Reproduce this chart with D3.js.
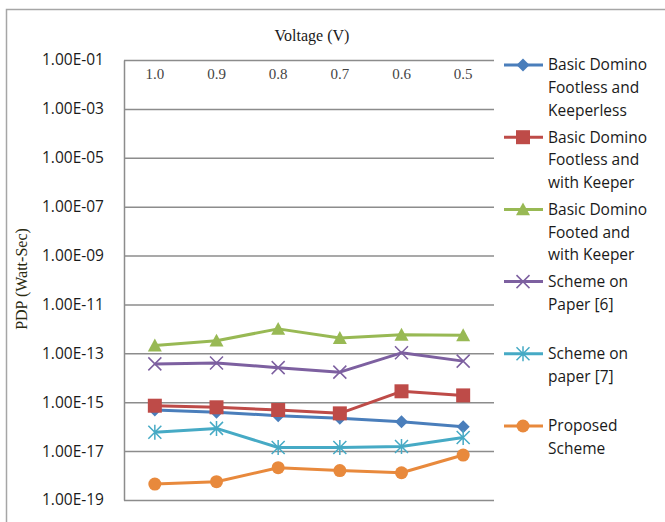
<!DOCTYPE html>
<html>
<head>
<meta charset="utf-8">
<script src="https://cdn.jsdelivr.net/npm/d3@7"></script>
<style>
  html, body { margin: 0; padding: 0; background: #fff; }
  svg { display: block; }
</style>
</head>
<body>
<svg id="chart" width="665" height="522"></svg>
<script>
// Supply voltages (categories, read left to right)
const voltages = ["1.0", "0.9", "0.8", "0.7", "0.6", "0.5"];

// Power-delay product per scheme (Watt-Sec)
const footlessKeeperless = [4.8e-16, 3.9e-16, 2.8e-16, 2.2e-16, 1.6e-16, 1.0e-16];
const footlessWithKeeper = [7.2e-16, 6.2e-16, 4.8e-16, 3.5e-16, 2.8e-15, 1.9e-15];
const footedWithKeeper   = [2.1e-13, 3.3e-13, 1.0e-12, 4.2e-13, 5.7e-13, 5.5e-13];
const schemePaper6       = [3.7e-14, 4.0e-14, 2.6e-14, 1.7e-14, 1.05e-13, 4.8e-14];
const schemePaper7       = [5.9e-17, 8.5e-17, 1.4e-17, 1.4e-17, 1.55e-17, 3.6e-17];
const proposedScheme     = [4.5e-19, 5.6e-19, 2.1e-18, 1.6e-18, 1.3e-18, 6.9e-18];

// Legend labels, wrapped as in the legend box
const seriesNames = [
  ["Basic Domino", "Footless and", "Keeperless"],
  ["Basic Domino", "Footless and", "with Keeper"],
  ["Basic Domino", "Footed and", "with Keeper"],
  ["Scheme on", "Paper [6]"],
  ["Scheme on", "paper [7]"],
  ["Proposed", "Scheme"]
];

// Y tick values (every second decade)
const yTicks = [1e-1, 1e-3, 1e-5, 1e-7, 1e-9, 1e-11, 1e-13, 1e-15, 1e-17, 1e-19];

const seriesValues = [footlessKeeperless, footlessWithKeeper, footedWithKeeper,
                      schemePaper6, schemePaper7, proposedScheme];
const colors  = ["#4A7EBB", "#BE4B48", "#98B954", "#7D60A0", "#46AAC5", "#E8893C"];
const markers = ["diamond", "square", "triangle", "x", "asterisk", "circle"];

const svg = d3.select("#chart");

// Outer chart frame
svg.append("rect")
  .attr("x", 6.5).attr("y", 9.5)
  .attr("width", 720).attr("height", 600)
  .attr("fill", "#fff")
  .attr("stroke", "#a6a6a6").attr("stroke-width", 1.5);

const plot = { left: 124, right: 494, top: 60, bottom: 500 };

const x = d3.scaleBand().domain(voltages).range([plot.left, plot.right]);
const y = d3.scaleLog().domain([1e-19, 1e-1]).range([plot.bottom, plot.top]);

const fmtExp = v => {
  const e = Math.round(Math.log10(v));
  const s = String(Math.abs(e)).padStart(2, "0");
  return "1.00E" + (e < 0 ? "-" : "+") + s;
};

// Y axis with horizontal gridlines
const yAxis = svg.append("g")
  .attr("transform", `translate(${plot.left},0)`)
  .call(d3.axisLeft(y).tickValues(yTicks).tickFormat(fmtExp)
        .tickSize(-(plot.right - plot.left)).tickSizeOuter(0).tickPadding(20));
yAxis.select(".domain").attr("stroke", "#8c8c8c").attr("stroke-width", 1.5);
yAxis.selectAll(".tick line").attr("stroke", "#8c8c8c").attr("stroke-width", 1.5);
yAxis.selectAll(".tick text")
  .attr("fill", "#1a1a1a")
  .style("font-family", "'Open Sans', sans-serif")
  .style("font-size", "15.5px");

// Category axis drawn along the top edge
const xAxis = svg.append("g")
  .attr("transform", `translate(0,${plot.top})`)
  .call(d3.axisBottom(x).tickSize(0).tickPadding(8));
xAxis.select(".domain").remove();
xAxis.selectAll(".tick text")
  .attr("fill", "#444")
  .style("font-family", "'Liberation Serif', 'Times New Roman', serif")
  .style("font-size", "15px");

// Axis titles
svg.append("text")
  .attr("x", 312).attr("y", 41)
  .attr("text-anchor", "middle")
  .attr("fill", "#1a1a1a")
  .style("font-family", "'Liberation Serif', 'Times New Roman', serif")
  .style("font-size", "16px")
  .text("Voltage (V)");

svg.append("text")
  .attr("transform", "translate(27,279) rotate(-90)")
  .attr("text-anchor", "middle")
  .attr("fill", "#2a2a10")
  .style("font-family", "'Liberation Serif', 'Times New Roman', serif")
  .style("font-size", "16px")
  .text("PDP (Watt-Sec)");

// Marker drawing
function drawMarker(g, type, cx, cy, color) {
  if (type === "diamond") {
    const r = 6.5;
    g.append("path")
      .attr("d", `M${cx},${cy - r}L${cx + r},${cy}L${cx},${cy + r}L${cx - r},${cy}Z`)
      .attr("fill", color);
  } else if (type === "square") {
    const s = 14;
    g.append("rect").attr("x", cx - s / 2).attr("y", cy - s / 2)
      .attr("width", s).attr("height", s).attr("fill", color);
  } else if (type === "triangle") {
    const r = 7;
    g.append("path")
      .attr("d", `M${cx},${cy - r}L${cx + r},${cy + r * 0.85}L${cx - r},${cy + r * 0.85}Z`)
      .attr("fill", color);
  } else if (type === "circle") {
    g.append("circle").attr("cx", cx).attr("cy", cy).attr("r", 6.5).attr("fill", color);
  } else if (type === "x") {
    const r = 6.5;
    g.append("path")
      .attr("d", `M${cx - r},${cy - r}L${cx + r},${cy + r}M${cx - r},${cy + r}L${cx + r},${cy - r}`)
      .attr("stroke", color).attr("stroke-width", 1.5).attr("fill", "none");
  } else if (type === "asterisk") {
    const r = 6.5;
    g.append("path")
      .attr("d", `M${cx - r},${cy - r}L${cx + r},${cy + r}M${cx - r},${cy + r}L${cx + r},${cy - r}M${cx},${cy - r - 1}L${cx},${cy + r + 1}`)
      .attr("stroke", color).attr("stroke-width", 1.5).attr("fill", "none");
  }
}

const xc = v => x(v) + x.bandwidth() / 2;
const line = d3.line().x((d, i) => xc(voltages[i])).y(d => y(d));

// Series lines and markers
seriesValues.forEach((vals, k) => {
  const g = svg.append("g");
  g.append("path")
    .attr("d", line(vals))
    .attr("fill", "none")
    .attr("stroke", colors[k])
    .attr("stroke-width", 3)
    .attr("stroke-linejoin", "round");
  vals.forEach((v, i) => drawMarker(g, markers[k], xc(voltages[i]), y(v), colors[k]));
});

// Legend
const legend = svg.append("g");
seriesNames.forEach((lines, k) => {
  const cy = 65 + 72.2 * k;
  legend.append("line")
    .attr("x1", 504).attr("x2", 543).attr("y1", cy).attr("y2", cy)
    .attr("stroke", colors[k]).attr("stroke-width", 3);
  drawMarker(legend, markers[k], 523, cy, colors[k]);
  const t = legend.append("text")
    .attr("x", 548).attr("y", cy)
    .attr("fill", "#1a1a1a")
    .style("font-family", "'Open Sans', sans-serif")
    .style("font-size", "15.5px");
  lines.forEach((s, j) => {
    t.append("tspan").attr("x", 548).attr("y", cy + 22.7 * j).attr("dy", "0.35em").text(s);
  });
});
</script>
</body>
</html>
